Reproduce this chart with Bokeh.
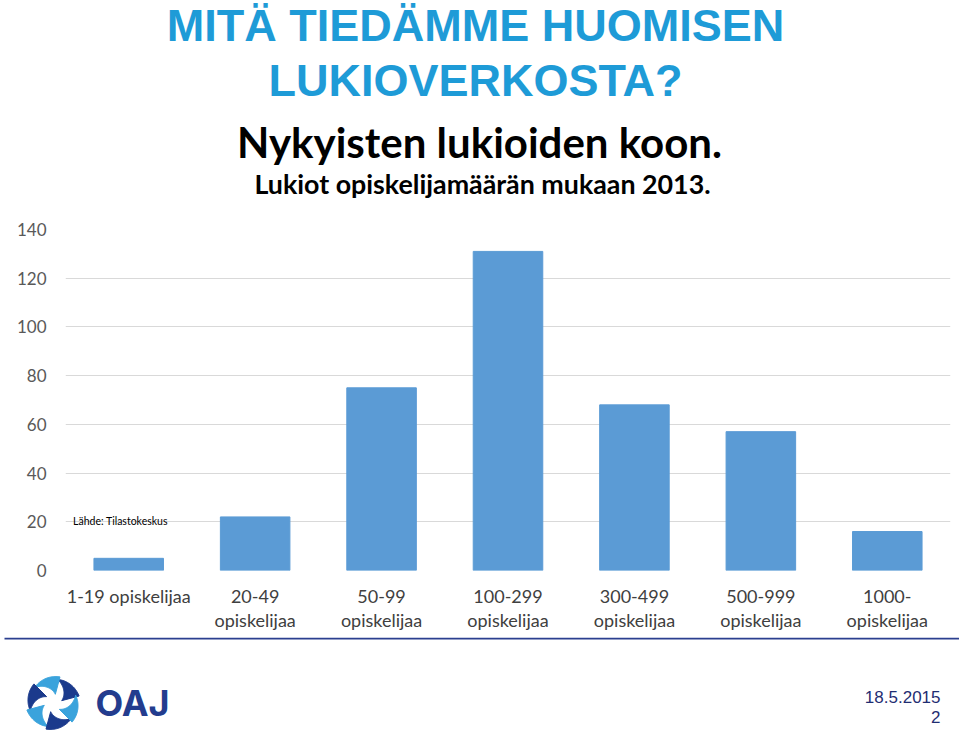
import numpy as np
from bokeh.plotting import figure
from bokeh.models import Range1d, FactorRange, Label
from bokeh.layouts import column
from bokeh.core.properties import value
from bokeh.embed import file_html
from bokeh.resources import INLINE

# ---------------- data ----------------
categories = ["1-19 opiskelijaa", "20-49\nopiskelijaa", "50-99\nopiskelijaa",
              "100-299\nopiskelijaa", "300-499\nopiskelijaa", "500-999\nopiskelijaa",
              "1000-\nopiskelijaa"]
counts = [5, 22, 75, 131, 68, 57, 16]
y_ticks = [0, 20, 40, 60, 80, 100, 120, 140]

title_lines = ["MITÄ TIEDÄMME HUOMISEN", "LUKIOVERKOSTA?"]
subtitle = "Nykyisten lukioiden koon."
subsubtitle = "Lukiot opiskelijamäärän mukaan 2013."
source_note = "Lähde: Tilastokeskus"
logo_text = "OAJ"
date_text = "18.5.2015"
page_no = "2"

W = 959
CAL = "Lato"

def bare(fig):
    fig.grid.visible = False
    fig.outline_line_color = None
    fig.background_fill_color = "white"
    fig.border_fill_color = "white"

# ---------------- header ----------------
HH = 219
hdr = figure(width=W, height=HH, x_range=Range1d(0, W), y_range=Range1d(HH, 0),
             output_backend="svg", toolbar_location=None, min_border=0,
             x_axis_location=None, y_axis_location=None, frame_align=False)
bare(hdr)
hdr.text(x=[475, 475], y=[24.5, 79.5], text=title_lines,
         text_font=value("Liberation Sans"), text_font_style="bold",
         text_font_size="45px", text_color="#1E9BD7",
         text_align="center", text_baseline="alphabetic")
hdr.text(x=[479], y=[141], text=[subtitle], text_font=value(CAL),
         text_font_style="bold", text_font_size="42px", text_color="#000000",
         text_align="center", text_baseline="alphabetic")
hdr.text(x=[482], y=[183], text=[subsubtitle], text_font=value(CAL),
         text_font_style="bold", text_font_size="26.8px", text_color="#000000",
         text_align="center", text_baseline="alphabetic")

# ---------------- chart ----------------
p = figure(width=W, height=418, x_range=FactorRange(factors=categories, range_padding=0),
           y_range=Range1d(0, 140), output_backend="svg", toolbar_location=None,
           min_border_left=65, min_border_right=9, min_border_top=10,
           min_border_bottom=67, frame_align=False)
p.outline_line_color = None
p.border_fill_color = "white"
p.vbar(x=categories, top=counts, width=0.55, color="#5B9BD5")

p.xgrid.visible = False
p.ygrid.grid_line_color = "#D9D9D9"
p.ygrid.grid_line_width = 1
p.yaxis.ticker = y_ticks
for ax in (p.xaxis, p.yaxis):
    ax.axis_line_color = None
    ax.major_tick_line_color = None
    ax.minor_tick_line_color = None
    ax.major_tick_out = 0
    ax.major_tick_in = 0
    ax.major_label_text_font = CAL
p.yaxis.major_label_text_font_size = "17px"
p.yaxis.major_label_text_color = "#595959"
p.yaxis.major_label_standoff = 19
p.xaxis.major_label_text_font_size = "18px"
p.xaxis.major_label_text_color = "#404040"
p.xaxis.major_label_standoff = 14
p.xaxis.major_label_text_line_height = 1.1

p.add_layout(Label(x=0.06, y=20.5, text=source_note, text_font=CAL,
                   text_font_size="10.5px", text_color="#000000",
                   text_baseline="middle", text_align="left"))

# ---------------- footer ----------------
FH = 97
ftr = figure(width=W, height=FH, x_range=Range1d(0, W), y_range=Range1d(FH, 0),
             output_backend="svg", toolbar_location=None, min_border=0,
             x_axis_location=None, y_axis_location=None, frame_align=False)
bare(ftr)
ftr.segment(x0=[4], y0=[1], x1=[W], y1=[1], line_color="#2B3F8F", line_width=2)

# logo swirl (decorative)
cx, cy, R, r0 = 52.5, 65.5, 27.0, 9.0
xs, ys, cols = [], [], []
for k in range(6):
    th0 = np.deg2rad(k * 60 + 15)
    span = np.deg2rad(64)
    t = np.linspace(0, 1, 30)
    outer_a = th0 + span * t
    outer_r = np.full_like(t, R) - 3 * t
    inner_a = (th0 + span * t)[::-1]
    inner_r = (r0 + (R - 3 - r0) * t ** 1.1)[::-1]
    a = np.concatenate([outer_a, inner_a])
    rr = np.concatenate([outer_r, inner_r])
    xs.append(list(cx + rr * np.cos(a)))
    ys.append(list(cy - rr * np.sin(a)))
    cols.append("#1B3A8C" if k % 2 == 0 else "#3AA3DC")
ftr.patches(xs=xs, ys=ys, fill_color=cols, line_color=cols, line_width=1)

ftr.text(x=[95], y=[65], text=[logo_text], text_font=value("Inter"),
         text_font_style="bold", text_font_size="36px", text_color="#233C8E",
         text_align="left", text_baseline="alphabetic")
ftr.text(x=[940, 940], y=[59.5, 79.5], text=[date_text, page_no],
         text_font=value("Liberation Sans"), text_font_size="17px",
         text_color="#1F2D72", text_align="right", text_baseline="alphabetic")

layout = column(hdr, p, ftr, spacing=0)
open("out.html", "w").write(file_html(layout, INLINE))
